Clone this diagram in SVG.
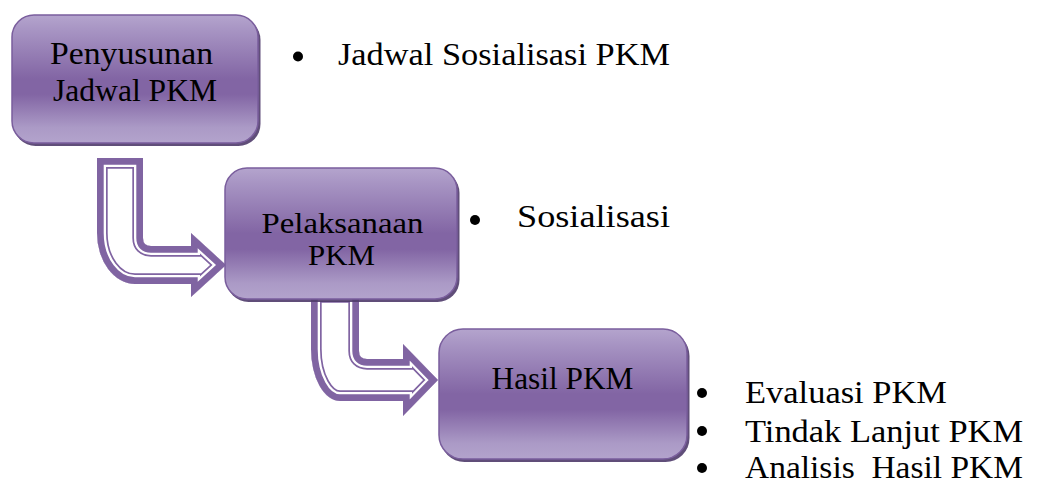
<svg xmlns="http://www.w3.org/2000/svg" width="1038" height="488" viewBox="0 0 1038 488">
  <style>
    .box { fill: url(#boxGrad); stroke: #7a5e9d; stroke-width: 1.5; }
    .shadow { fill: #4f3b6a; opacity: 0.9; }
    .dot { fill: #000; }
    text { font-family: "Liberation Serif", "Times New Roman", Tinos, "Noto Serif", "DejaVu Serif", Georgia, serif; fill: #000; }
  </style>
  <defs>
    <linearGradient id="boxGrad" x1="0" y1="0" x2="0" y2="1">
      <stop offset="0" stop-color="#b4a4cd"/>
      <stop offset="0.12" stop-color="#a794c3"/>
      <stop offset="0.5" stop-color="#8265a4"/>
      <stop offset="0.62" stop-color="#8265a4"/>
      <stop offset="0.88" stop-color="#ab9ac6"/>
      <stop offset="1" stop-color="#b3a3cc"/>
    </linearGradient>
    <path id="a1" d="M 97 158 L 143 158 L 143 238 Q 143 246 151 246 L 191 246 L 191 233 L 226 265 L 191 297 L 191 284 L 135 284 A 38 51 0 0 1 97 233 Z"/>
    <path id="a2" d="M 311 292 L 359 292 L 359 351 Q 359 359 367 359 L 403 359 L 403 344 L 438 380 L 403 416 L 403 401 L 340 401 A 29 52 0 0 1 311 349 Z"/>
    <clipPath id="c1"><use href="#a1"/></clipPath>
    <clipPath id="c2"><use href="#a2"/></clipPath>
  </defs>

  <g id="connectors">
    <g id="arrow1" clip-path="url(#c1)">
      <use href="#a1" fill="#ffffff"/>
      <use href="#a1" fill="none" stroke="#8064a2" stroke-width="21.4"/>
      <use href="#a1" fill="none" stroke="#ffffff" stroke-width="18"/>
      <use href="#a1" fill="none" stroke="#8064a2" stroke-width="13.4"/>
    </g>
    <g id="arrow2" clip-path="url(#c2)">
      <use href="#a2" fill="#ffffff"/>
      <use href="#a2" fill="none" stroke="#8064a2" stroke-width="21.4"/>
      <use href="#a2" fill="none" stroke="#ffffff" stroke-width="18"/>
      <use href="#a2" fill="none" stroke="#8064a2" stroke-width="13.4"/>
    </g>
  </g>

  <g id="node-penyusunan">
    <rect class="shadow" x="13.5" y="18" width="247" height="128" rx="22"/>
    <rect class="box" x="12" y="15" width="246" height="128" rx="22"/>
    <text font-size="32" x="131.5" y="64" text-anchor="middle" textLength="163" lengthAdjust="spacingAndGlyphs">Penyusunan</text>
    <text font-size="32" x="135" y="101" text-anchor="middle" textLength="164" lengthAdjust="spacingAndGlyphs">Jadwal PKM</text>
  </g>

  <g id="node-pelaksanaan">
    <rect class="shadow" x="226.5" y="171" width="233" height="131" rx="22"/>
    <rect class="box" x="225" y="168" width="232" height="131" rx="22"/>
    <text font-size="29" x="342.5" y="233" text-anchor="middle" textLength="162" lengthAdjust="spacingAndGlyphs">Pelaksanaan</text>
    <text font-size="29" x="341.5" y="265" text-anchor="middle" textLength="67" lengthAdjust="spacingAndGlyphs">PKM</text>
  </g>

  <g id="node-hasil">
    <rect class="shadow" x="440.5" y="332" width="249" height="130" rx="24"/>
    <rect class="box" x="439" y="329" width="248" height="130" rx="24"/>
    <text font-size="32" x="562.5" y="389" text-anchor="middle" textLength="142" lengthAdjust="spacingAndGlyphs">Hasil PKM</text>
  </g>

  <g id="list-penyusunan" font-size="32">
    <circle class="dot" cx="298" cy="56.5" r="5"/>
    <text x="338" y="65" textLength="332" lengthAdjust="spacingAndGlyphs">Jadwal Sosialisasi PKM</text>
  </g>

  <g id="list-pelaksanaan" font-size="32">
    <circle class="dot" cx="475" cy="220" r="5"/>
    <text x="517" y="227" textLength="153" lengthAdjust="spacingAndGlyphs">Sosialisasi</text>
  </g>

  <g id="list-hasil" font-size="32">
    <circle class="dot" cx="702" cy="393" r="5"/>
    <text x="745" y="403" textLength="202" lengthAdjust="spacingAndGlyphs">Evaluasi PKM</text>
    <circle class="dot" cx="702" cy="431" r="5"/>
    <text x="745" y="442" textLength="278" lengthAdjust="spacingAndGlyphs">Tindak Lanjut PKM</text>
    <circle class="dot" cx="702" cy="468" r="5"/>
    <text x="745" y="478" textLength="278" lengthAdjust="spacingAndGlyphs" xml:space="preserve">Analisis  Hasil PKM</text>
  </g>
</svg>
